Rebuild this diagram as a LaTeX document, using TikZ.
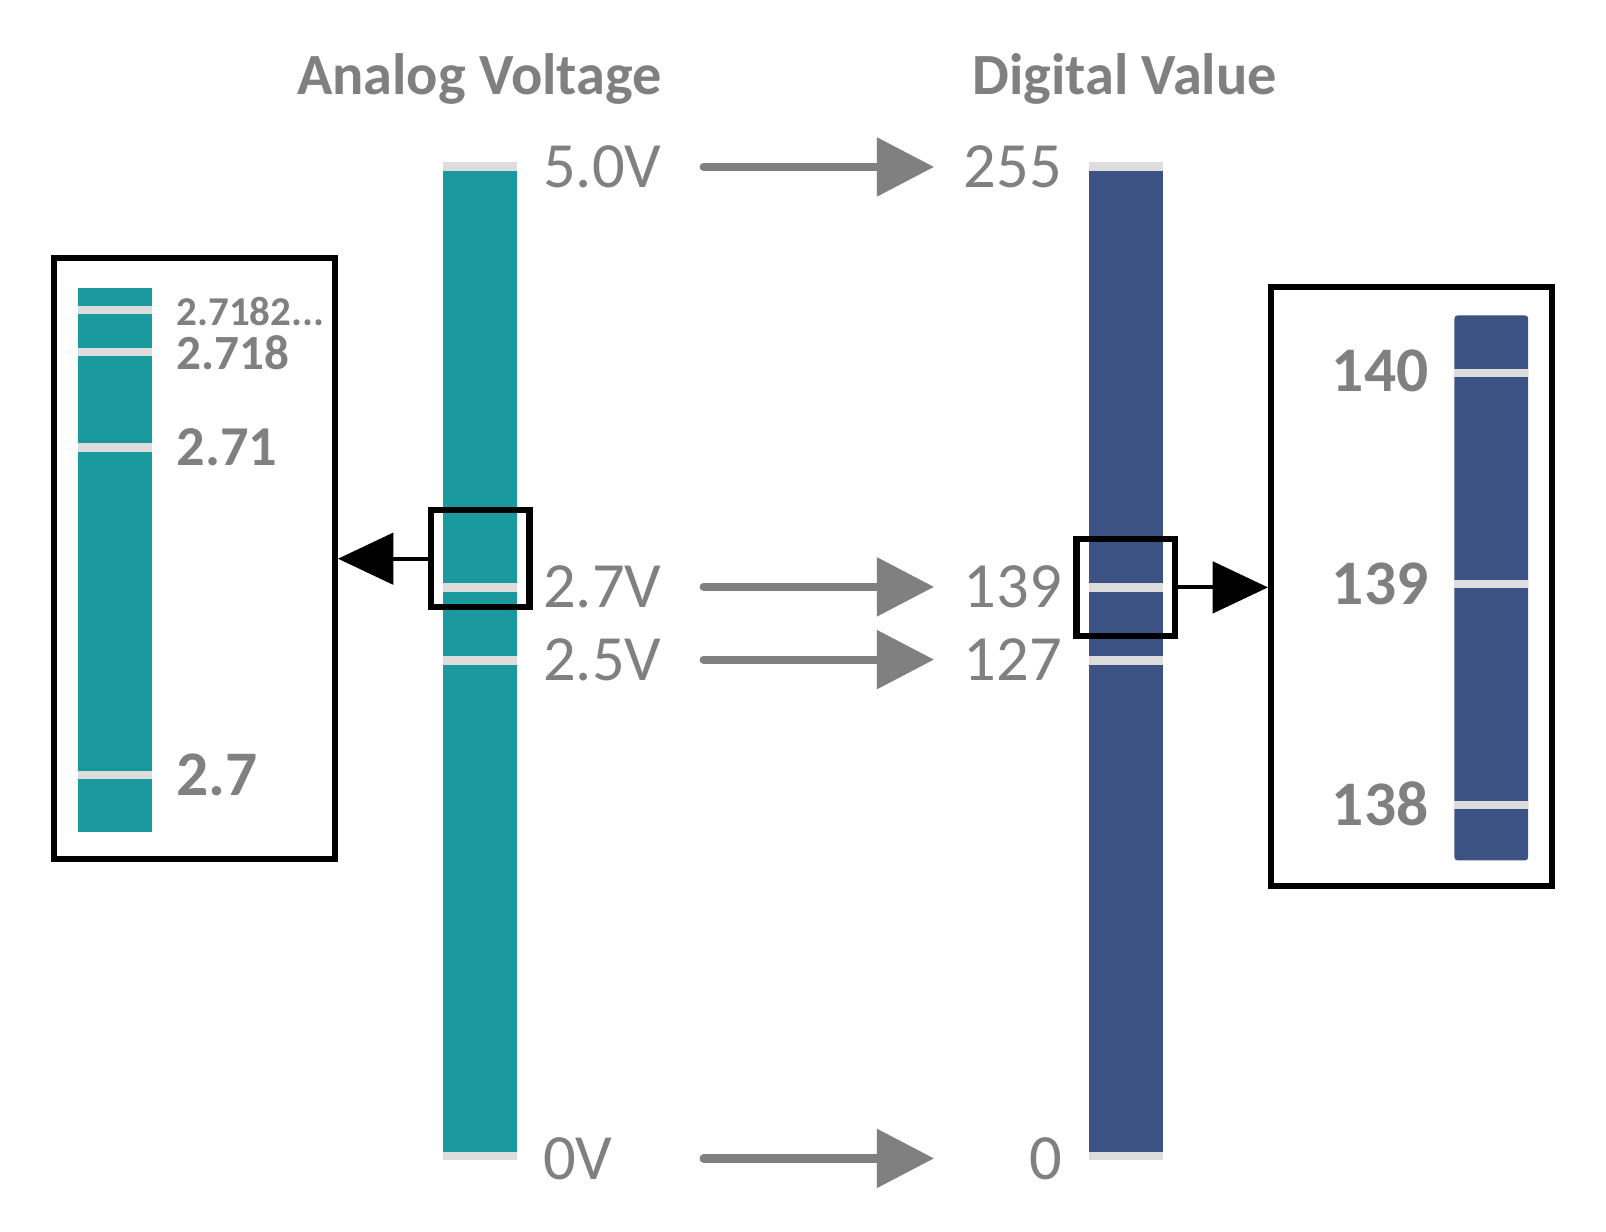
\documentclass[tikz,border=0pt]{standalone}
\usepackage{fontspec}
\setmainfont{Carlito}
\usetikzlibrary{arrows.meta}
\definecolor{tealbar}{RGB}{26,154,159}
\definecolor{navybar}{RGB}{59,82,131}
\definecolor{txtgray}{RGB}{128,128,128}
\definecolor{tickgray}{RGB}{221,221,221}
\begin{document}
\begin{tikzpicture}[x=0.5pt,y=-0.5pt,
  bar/.style={draw=none, inner sep=0, outer sep=0, minimum width=36pt},
  title/.style={text=txtgray, font=\fontsize{28.5}{30}\selectfont\bfseries, inner sep=0, anchor=base},
  lbl/.style={text=txtgray, font=\fontsize{31.5}{33}\selectfont, inner sep=0},
  blbl/.style={text=txtgray, inner sep=0, anchor=west},
  zoombox/.style={draw=black, line width=3pt, inner sep=0, fill=none},
  grayarrow/.style={draw=txtgray, line width=4pt, line cap=round, -{Triangle[length=28pt,width=28pt]}},
  blackarrow/.style={draw=black, line width=2pt, -{Triangle[length=27pt,width=25pt]}}
]
\useasboundingbox (0,0) rectangle (1568,1202);

% titles
\node[title] (tanalog) at (468,92) {Analog Voltage};
\node[title] (tdigital) at (1098,92) {Digital Value};

% analog bar
\node[bar, fill=tealbar, minimum height=479pt] (abar) at (469,646) {};
\fill[tickgray] (433,158) rectangle (505,167);
\fill[tickgray] (433,1125) rectangle (505,1133);
\fill[tickgray] (433,569) rectangle (505,578);
\fill[tickgray] (433,640) rectangle (505,649);

% digital bar
\node[bar, fill=navybar, minimum height=479pt] (dbar) at (1099,646) {};
\fill[tickgray] (1063,158) rectangle (1135,167);
\fill[tickgray] (1063,1125) rectangle (1135,1133);
\fill[tickgray] (1063,569) rectangle (1135,578);
\fill[tickgray] (1063,640) rectangle (1135,649);

% analog labels
\node[lbl, anchor=west] (v50) at (530,163) {5.0V};
\node[lbl, anchor=west] (v27) at (530,573) {2.7V};
\node[lbl, anchor=west] (v25) at (530,644) {2.5V};
\node[lbl, anchor=west] (v00) at (530,1131) {0V};

% digital labels
\node[lbl, anchor=east] (d255) at (1037,163) {255};
\node[lbl, anchor=east] (d139) at (1037,573) {139};
\node[lbl, anchor=east] (d127) at (1037,644) {127};
\node[lbl, anchor=east] (d000) at (1037,1131) {0};

% mapping arrows
\foreach \n/\y in {a/163,b/573,c/644,d/1131}{
  \coordinate (s\n) at (687,\y);
  \coordinate (e\n) at (912,\y);
  \draw[grayarrow] (s\n) -- (e\n);
}

% left inset
\node[zoombox, minimum width=137pt, minimum height=293.5pt] (insetL) at (190,545.5) {};
\node[bar, fill=tealbar, minimum height=265.5pt] (ibarL) at (112,546.5) {};
\foreach \y in {303,344,437,757}{
  \fill[tickgray] (76,\y-4) rectangle (148,\y+4);
}
\node[blbl, font=\fontsize{20}{22}\selectfont\bfseries] (l1) at (172,304) {2.7182...};
\node[blbl, font=\fontsize{24}{26}\selectfont\bfseries] (l2) at (172,344) {2.718};
\node[blbl, font=\fontsize{27.5}{29}\selectfont\bfseries] (l3) at (172,437) {2.71};
\node[blbl, font=\fontsize{31}{33}\selectfont\bfseries] (l4) at (172,757) {2.7};

% right inset
\node[zoombox, minimum width=137pt, minimum height=292.5pt] (insetR) at (1378,572.5) {};
\node[bar, fill=navybar, minimum height=266pt, rounded corners=1.5pt] (ibarR) at (1456,574) {};
\foreach \y in {364,570,786}{
  \fill[tickgray] (1420,\y-4) rectangle (1492,\y+4);
}
\node[blbl, anchor=east, font=\fontsize{31}{33}\selectfont\bfseries] (r1) at (1395,362) {140};
\node[blbl, anchor=east, font=\fontsize{31}{33}\selectfont\bfseries] (r2) at (1395,570) {139};
\node[blbl, anchor=east, font=\fontsize{31}{33}\selectfont\bfseries] (r3) at (1395,785) {138};

% zoom boxes on bars
\node[zoombox, minimum width=48pt, minimum height=47.5pt] (zoomA) at (469,545.5) {};
\node[zoombox, minimum width=48pt, minimum height=47.5pt] (zoomD) at (1099,573.5) {};

% zoom arrows
\draw[blackarrow] (zoomA.west) -- (zoomA.west -| insetL.east);
\draw[blackarrow] (zoomD.east) -- (zoomD.east -| insetR.west);
\end{tikzpicture}
\end{document}
